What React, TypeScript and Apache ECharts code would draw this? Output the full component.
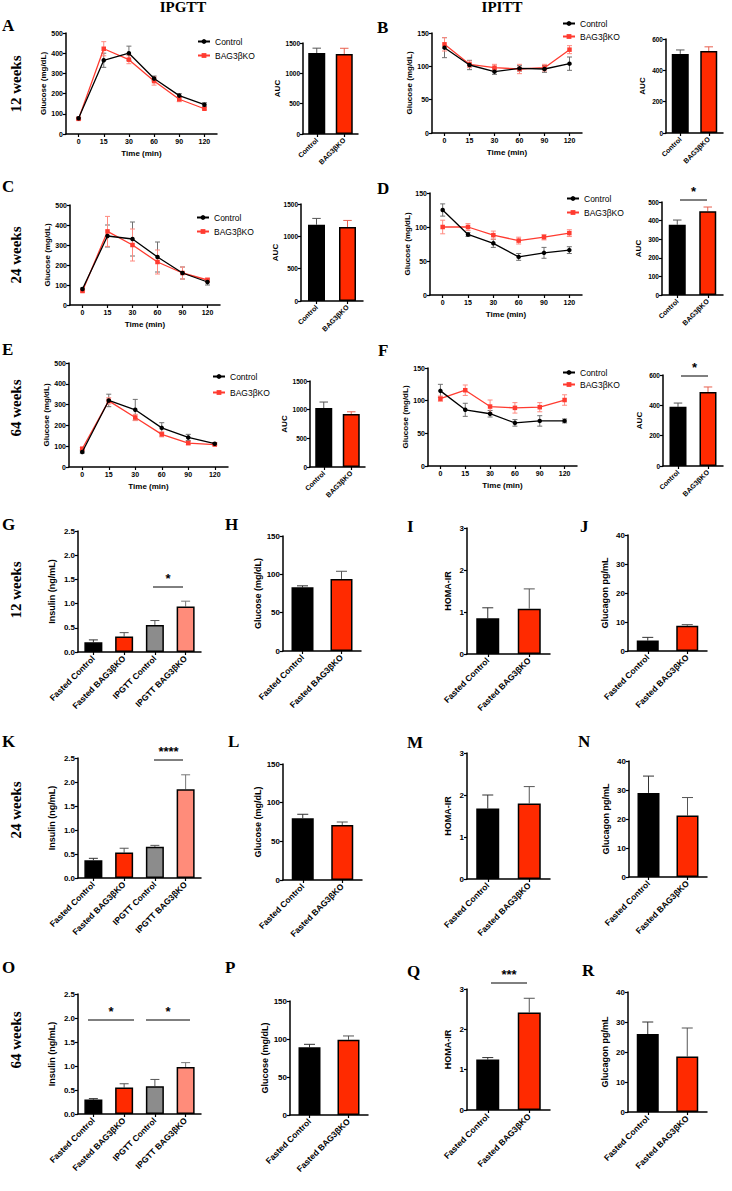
import React, { useEffect, useRef } from 'react';
import * as echarts from 'echarts';

// ---------- categories ----------
const timePoints = ['0', '15', '30', '60', '90', '120'];
const aucCats = ['Control', 'BAG3βKO'];
const fastedCats = ['Fasted Control', 'Fasted BAG3βKO'];
const insulinCats = ['Fasted Control', 'Fasted BAG3βKO', 'IPGTT Control', 'IPGTT BAG3βKO'];

// ---------- line data (mean, SEM) ----------
const aCtrl = [78, 365, 400, 275, 190, 145];
const aCtrlErr = [5, 35, 35, 12, 10, 10];
const aKo = [75, 422, 368, 262, 172, 125];
const aKoErr = [5, 35, 20, 20, 12, 5];
const aAuc = [1335, 1318];
const aAucErr = [80, 95];

const bCtrl = [128, 102, 92, 97, 96, 104];
const bCtrlErr = [15, 7, 4, 4, 5, 10];
const bKo = [133, 103, 98, 96, 98, 125];
const bKoErr = [10, 5, 5, 7, 5, 6];
const bAuc = [505, 523];
const bAucErr = [25, 27];

const cCtrl = [80, 345, 330, 240, 160, 115];
const cCtrlErr = [5, 55, 85, 75, 30, 15];
const cKo = [70, 368, 300, 215, 160, 125];
const cKoErr = [5, 75, 80, 60, 30, 10];
const cAuc = [1180, 1143];
const cAucErr = [97, 103];

const dCtrl = [125, 89, 76, 56, 62, 66];
const dCtrlErr = [9, 3, 6, 5, 8, 5];
const dKo = [100, 100, 88, 80, 85, 91];
const dKoErr = [10, 5, 6, 5, 4, 5];
const dAuc = [378, 450];
const dAucErr = [25, 23];

const eCtrl = [72, 320, 275, 188, 142, 112];
const eCtrlErr = [5, 30, 50, 25, 15, 5];
const eKo = [88, 318, 238, 157, 115, 108];
const eKoErr = [5, 15, 15, 12, 8, 5];
const eAuc = [1028, 925];
const eAucErr = [105, 38];

const fCtrl = [115, 86, 80, 66, 69, 69];
const fCtrlErr = [10, 10, 5, 5, 8, 3];
const fKo = [103, 116, 91, 89, 90, 101];
const fKoErr = [4, 8, 10, 8, 7, 8];
const fAuc = [390, 488];
const fAucErr = [25, 33];

// ---------- bar data ----------
const gIns = [0.2, 0.32, 0.56, 0.94];
const gInsErr = [0.05, 0.08, 0.09, 0.11];
const hGlu = [83, 94];
const hGluErr = [2, 10];
const iHoma = [0.85, 1.08];
const iHomaErr = [0.25, 0.47];
const jGlc = [3.6, 8.7];
const jGlcErr = [1.1, 0.4];

const kIns = [0.37, 0.53, 0.65, 1.85];
const kInsErr = [0.04, 0.09, 0.03, 0.3];
const lGlu = [80, 71];
const lGluErr = [5, 4];
const mHoma = [1.68, 1.8];
const mHomaErr = [0.32, 0.4];
const nGlc = [29, 21.2];
const nGlcErr = [5.8, 6.2];

const oIns = [0.3, 0.55, 0.58, 0.98];
const oInsErr = [0.02, 0.08, 0.14, 0.09];
const pGlu = [89, 99];
const pGluErr = [4, 5];
const qHoma = [1.25, 2.42];
const qHomaErr = [0.05, 0.35];
const rGlc = [26, 18.5];
const rGlcErr = [4, 9.5];

// ---------- styles ----------
const SANS = 'Liberation Sans, Arial, sans-serif';
const SERIF = 'Liberation Serif, Times New Roman, serif';
const BLACK = '#000000';
const RED = '#FF2A00';
const LINE_RED = '#FF3B30';
const GRAY = '#8C8C8C';
const SALMON = '#FF8C7A';
const twoColors = [BLACK, RED];
const fourColors = [BLACK, RED, GRAY, SALMON];

function buildOption() {
  const o: any = { grid: [], xAxis: [], yAxis: [], series: [], legend: [] };
  const axLine = { show: true, lineStyle: { color: '#000', width: 1.5 } };
  const axTick = { show: true, length: 3, lineStyle: { color: '#000', width: 1.2 } };

  function addGrid(box: number[], cats: string[], yMin: number, yMax: number, yInt: number,
    yName: string, yGap: number, xExtra: any, yLabelSize: number, yNameSize: number) {
    const i = o.grid.length;
    o.grid.push({ left: box[0], top: box[1], width: box[2], height: box[3] });
    o.xAxis.push(Object.assign({
      gridIndex: i, type: 'category', data: cats, boundaryGap: true,
      axisLine: axLine, axisTick: Object.assign({ alignWithLabel: true }, axTick),
      splitLine: { show: false },
    }, xExtra));
    o.yAxis.push({
      gridIndex: i, type: 'value', min: yMin, max: yMax, interval: yInt,
      name: yName, nameLocation: 'middle', nameGap: yGap, nameRotate: 90,
      nameTextStyle: { fontFamily: SANS, fontWeight: 'bold', fontSize: yNameSize, color: '#000' },
      axisLine: axLine, axisTick: axTick,
      axisLabel: {
        fontFamily: SANS, fontWeight: 'bold', fontSize: yLabelSize, color: '#000', margin: 3,
        formatter: (v: number) => (yInt < 1 ? v.toFixed(1) : String(v)),
      },
      splitLine: { show: false },
    });
    return i;
  }

  function errSeries(i: number, vals: number[], errs: number[], color: string, cap: number, both: boolean, z: number) {
    return {
      type: 'custom', xAxisIndex: i, yAxisIndex: i, z, silent: true,
      encode: { x: 0, y: 1 },
      data: vals.map((v, k) => [k, v, errs[k]]),
      renderItem: (params: any, api: any) => {
        const x = api.value(0), m = api.value(1), e = api.value(2);
        const top = api.coord([x, m + e]);
        const bot = api.coord([x, both ? m - e : m]);
        const h = cap / 2;
        const st = { stroke: color, lineWidth: 1 };
        const ch: any[] = [
          { type: 'line', shape: { x1: top[0], y1: top[1], x2: bot[0], y2: bot[1] }, style: st },
          { type: 'line', shape: { x1: top[0] - h, y1: top[1], x2: top[0] + h, y2: top[1] }, style: st },
        ];
        if (both) ch.push({ type: 'line', shape: { x1: bot[0] - h, y1: bot[1], x2: bot[0] + h, y2: bot[1] }, style: st });
        return { type: 'group', children: ch };
      },
    };
  }

  const lineX = {
    name: 'Time (min)', nameLocation: 'middle', nameGap: 15,
    nameTextStyle: { fontFamily: SANS, fontWeight: 'bold', fontSize: 8, color: '#000' },
    axisLabel: { fontFamily: SANS, fontWeight: 'bold', fontSize: 7, color: '#000', margin: 4, interval: 0 },
  };

  function linePanel(box: number[], yMax: number, yInt: number, ctrl: number[], ctrlErr: number[],
    ko: number[], koErr: number[], legendPos: number[], legendGap: number) {
    const i = addGrid(box, timePoints, 0, yMax, yInt, 'Glucose (mg/dL)', 19, lineX, 7, 8);
    o.series.push(errSeries(i, ctrl, ctrlErr, '#707070', 5, true, 1));
    o.series.push(errSeries(i, ko, koErr, '#FF8A80', 5, true, 1));
    o.series.push({
      type: 'line', name: 'Control', xAxisIndex: i, yAxisIndex: i, data: ctrl, z: 3,
      symbol: 'circle', symbolSize: 4.5, color: BLACK, lineStyle: { width: 1.3, color: BLACK },
      itemStyle: { color: BLACK },
    });
    o.series.push({
      type: 'line', name: 'BAG3βKO', xAxisIndex: i, yAxisIndex: i, data: ko, z: 2,
      symbol: 'rect', symbolSize: 4.5, color: LINE_RED, lineStyle: { width: 1.3, color: LINE_RED },
      itemStyle: { color: LINE_RED },
    });
    o.legend.push({
      left: legendPos[0], top: legendPos[1], orient: 'vertical', itemWidth: 12, itemHeight: 6,
      itemGap: legendGap, data: ['Control', 'BAG3βKO'], selectedMode: false,
      textStyle: { fontFamily: SANS, fontSize: 8.5, color: '#000', padding: [0, 0, 0, 0] },
    });
  }

  const rotX = (size: number) => ({
    axisLabel: { fontFamily: SANS, fontWeight: 'bold', fontSize: size, color: '#000', rotate: 45, margin: 5, interval: 0 },
  });

  function barPanel(box: number[], cats: string[], yMax: number, yInt: number, yName: string, yGap: number,
    vals: number[], errs: number[], colors: string[], errColors: string[], barW: number, labelSize: number,
    tickSize: number, nameSize: number) {
    const i = addGrid(box, cats, 0, yMax, yInt, yName, yGap, rotX(labelSize), tickSize, nameSize);
    o.series.push({
      type: 'bar', name: 'bar' + i, xAxisIndex: i, yAxisIndex: i, barWidth: barW, z: 3,
      data: vals.map((v, k) => ({ value: v, itemStyle: { color: colors[k] } })),
      itemStyle: { borderColor: '#000', borderWidth: 1.5 },
    });
    o.series.push({
      type: 'custom', xAxisIndex: i, yAxisIndex: i, z: 1, silent: true,
      encode: { x: 0, y: 1 },
      data: vals.map((v, k) => [k, v, errs[k], k]),
      renderItem: (params: any, api: any) => {
        const x = api.value(0), m = api.value(1), e = api.value(2), k = api.value(3);
        const top = api.coord([x, m + e]);
        const bot = api.coord([x, m]);
        const h = Math.min(11, barW * 0.5) / 2;
        const st = { stroke: errColors[k], lineWidth: 1 };
        return {
          type: 'group', children: [
            { type: 'line', shape: { x1: top[0], y1: top[1], x2: bot[0], y2: bot[1] }, style: st },
            { type: 'line', shape: { x1: top[0] - h, y1: top[1], x2: top[0] + h, y2: top[1] }, style: st },
          ],
        };
      },
    });
  }

  const aucErrColors = ['#555555', '#E8604F'];
  const botErr2 = ['#333333', '#555555'];
  const botErr4 = ['#333333', '#555555', '#555555', '#777777'];

  // Row 1
  linePanel([66, 33, 151, 101], 500, 100, aCtrl, aCtrlErr, aKo, aKoErr, [192, 32], 5);
  barPanel([303, 43, 55, 91], aucCats, 1500, 500, 'AUC', 22, aAuc, aAucErr, twoColors, aucErrColors, 17, 7, 6.5, 8);
  linePanel([432, 33, 150, 100], 150, 50, bCtrl, bCtrlErr, bKo, bKoErr, [557, 14], 4);
  barPanel([666, 39, 57, 94], aucCats, 600, 200, 'AUC', 20, bAuc, bAucErr, twoColors, aucErrColors, 17, 7, 6.5, 8);
  // Row 2
  linePanel([70, 205, 150, 100], 500, 100, cCtrl, cCtrlErr, cKo, cKoErr, [191, 208], 5);
  barPanel([301, 204, 62, 97], aucCats, 1500, 500, 'AUC', 22, cAuc, cAucErr, twoColors, aucErrColors, 17, 7, 6.5, 8);
  linePanel([430, 193, 152, 102], 150, 50, dCtrl, dCtrlErr, dKo, dKoErr, [561, 189], 5);
  barPanel([662, 202, 61, 93], aucCats, 500, 100, 'AUC', 20, dAuc, dAucErr, twoColors, aucErrColors, 17, 7, 6.5, 8);
  // Row 3
  linePanel([69, 363, 159, 104], 500, 100, eCtrl, eCtrlErr, eKo, eKoErr, [207, 367], 7);
  barPanel([310, 381, 55, 86], aucCats, 1500, 500, 'AUC', 22, eAuc, eAucErr, twoColors, aucErrColors, 17, 7, 6.5, 8);
  linePanel([428, 368, 149, 98], 150, 50, fCtrl, fCtrlErr, fKo, fKoErr, [557, 363], 3);
  barPanel([663, 375, 60, 91], aucCats, 600, 200, 'AUC', 20, fAuc, fAucErr, twoColors, aucErrColors, 17, 7, 6.5, 8);

  // Row 4 (12 weeks)
  barPanel([78, 531, 123, 121], insulinCats, 2.5, 0.5, 'Insulin (ng/mL)', 22, gIns, gInsErr, fourColors, botErr4, 18, 8.5, 8, 9);
  barPanel([283, 536, 78, 115], fastedCats, 150, 50, 'Glucose (mg/dL)', 21, hGlu, hGluErr, twoColors, botErr2, 22, 8.5, 8, 9);
  barPanel([467, 528, 83, 126], fastedCats, 3, 1, 'HOMA-IR', 15, iHoma, iHomaErr, twoColors, botErr2, 23, 8.5, 8, 9);
  barPanel([628, 535, 79, 116], fastedCats, 40, 10, 'Glucagon pg/mL', 19, jGlc, jGlcErr, twoColors, botErr2, 22, 8.5, 8, 9);
  // Row 5 (24 weeks)
  barPanel([78, 758, 123, 120], insulinCats, 2.5, 0.5, 'Insulin (ng/mL)', 22, kIns, kInsErr, fourColors, botErr4, 18, 8.5, 8, 9);
  barPanel([283, 764, 79, 116], fastedCats, 150, 50, 'Glucose (mg/dL)', 21, lGlu, lGluErr, twoColors, botErr2, 22, 8.5, 8, 9);
  barPanel([467, 753, 83, 126], fastedCats, 3, 1, 'HOMA-IR', 15, mHoma, mHomaErr, twoColors, botErr2, 23, 8.5, 8, 9);
  barPanel([629, 761, 78, 116], fastedCats, 40, 10, 'Glucagon pg/mL', 19, nGlc, nGlcErr, twoColors, botErr2, 22, 8.5, 8, 9);
  // Row 6 (64 weeks)
  barPanel([78, 994, 123, 120], insulinCats, 2.5, 0.5, 'Insulin (ng/mL)', 22, oIns, oInsErr, fourColors, botErr4, 18, 8.5, 8, 9);
  barPanel([290, 1001, 78, 114], fastedCats, 150, 50, 'Glucose (mg/dL)', 21, pGlu, pGluErr, twoColors, botErr2, 22, 8.5, 8, 9);
  barPanel([467, 989, 83, 121], fastedCats, 3, 1, 'HOMA-IR', 15, qHoma, qHomaErr, twoColors, botErr2, 23, 8.5, 8, 9);
  barPanel([628, 992, 79, 120], fastedCats, 40, 10, 'Glucagon pg/mL', 19, rGlc, rGlcErr, twoColors, botErr2, 22, 8.5, 8, 9);

  // ---------- annotations ----------
  const g: any[] = [];
  const letter = (t: string, x: number, y: number) => g.push({
    type: 'text', x, y, style: { text: t, font: `bold 17px ${SERIF}`, fill: '#000', textVerticalAlign: 'middle' },
  });
  const weeks = (t: string, x: number, y: number) => g.push({
    type: 'text', x, y, rotation: Math.PI / 2,
    style: { text: t, font: `bold 15px ${SERIF}`, fill: '#000', textAlign: 'center', textVerticalAlign: 'middle' },
  });
  const title = (t: string, x: number, y: number) => g.push({
    type: 'text', x, y, style: { text: t, font: `bold 15px ${SERIF}`, fill: '#000', textAlign: 'center', textVerticalAlign: 'middle' },
  });
  const sig = (t: string, x1: number, x2: number, y: number) => {
    g.push({ type: 'line', shape: { x1, y1: y, x2, y2: y }, style: { stroke: '#000', lineWidth: 1 } });
    g.push({
      type: 'text', x: (x1 + x2) / 2, y: y - 2,
      style: { text: t, font: `bold 13px ${SANS}`, fill: '#000', textAlign: 'center', textVerticalAlign: 'bottom' },
    });
  };

  title('IPGTT', 183, 7);
  title('IPITT', 502, 7);
  letter('A', 2, 25); letter('B', 377, 27);
  letter('C', 2, 186); letter('D', 377, 188);
  letter('E', 2, 349); letter('F', 378, 350);
  letter('G', 2, 524); letter('H', 225, 524); letter('I', 407, 526); letter('J', 580, 526);
  letter('K', 2, 741); letter('L', 228, 741); letter('M', 407, 742); letter('N', 578, 741);
  letter('O', 2, 967); letter('P', 225, 967); letter('Q', 407, 971); letter('R', 582, 970);
  weeks('12 weeks', 16, 84);
  weeks('24 weeks', 16, 255);
  weeks('64 weeks', 16, 408);
  weeks('12 weeks', 16, 590);
  weeks('24 weeks', 16, 810);
  weeks('64 weeks', 16, 1040);

  sig('*', 680, 707, 200);
  sig('*', 681, 708, 376);
  sig('*', 153, 183, 587);
  sig('****', 154, 183, 760);
  sig('*', 88, 134, 1020);
  sig('*', 146, 190, 1020);
  sig('***', 491, 527, 983);

  o.graphic = g;
  o.animation = false;
  o.textStyle = { fontFamily: SANS };
  o.backgroundColor = '#ffffff';
  return o;
}

export default function App() {
  const ref = useRef<HTMLDivElement>(null);
  useEffect(() => {
    const chart = echarts.init(ref.current!, null, { renderer: 'svg' });
    chart.setOption(buildOption());
    return () => chart.dispose();
  }, []);
  return <div ref={ref} style={{ position: 'absolute', left: 0, top: 0, width: 732, height: 1191 }} />;
}
